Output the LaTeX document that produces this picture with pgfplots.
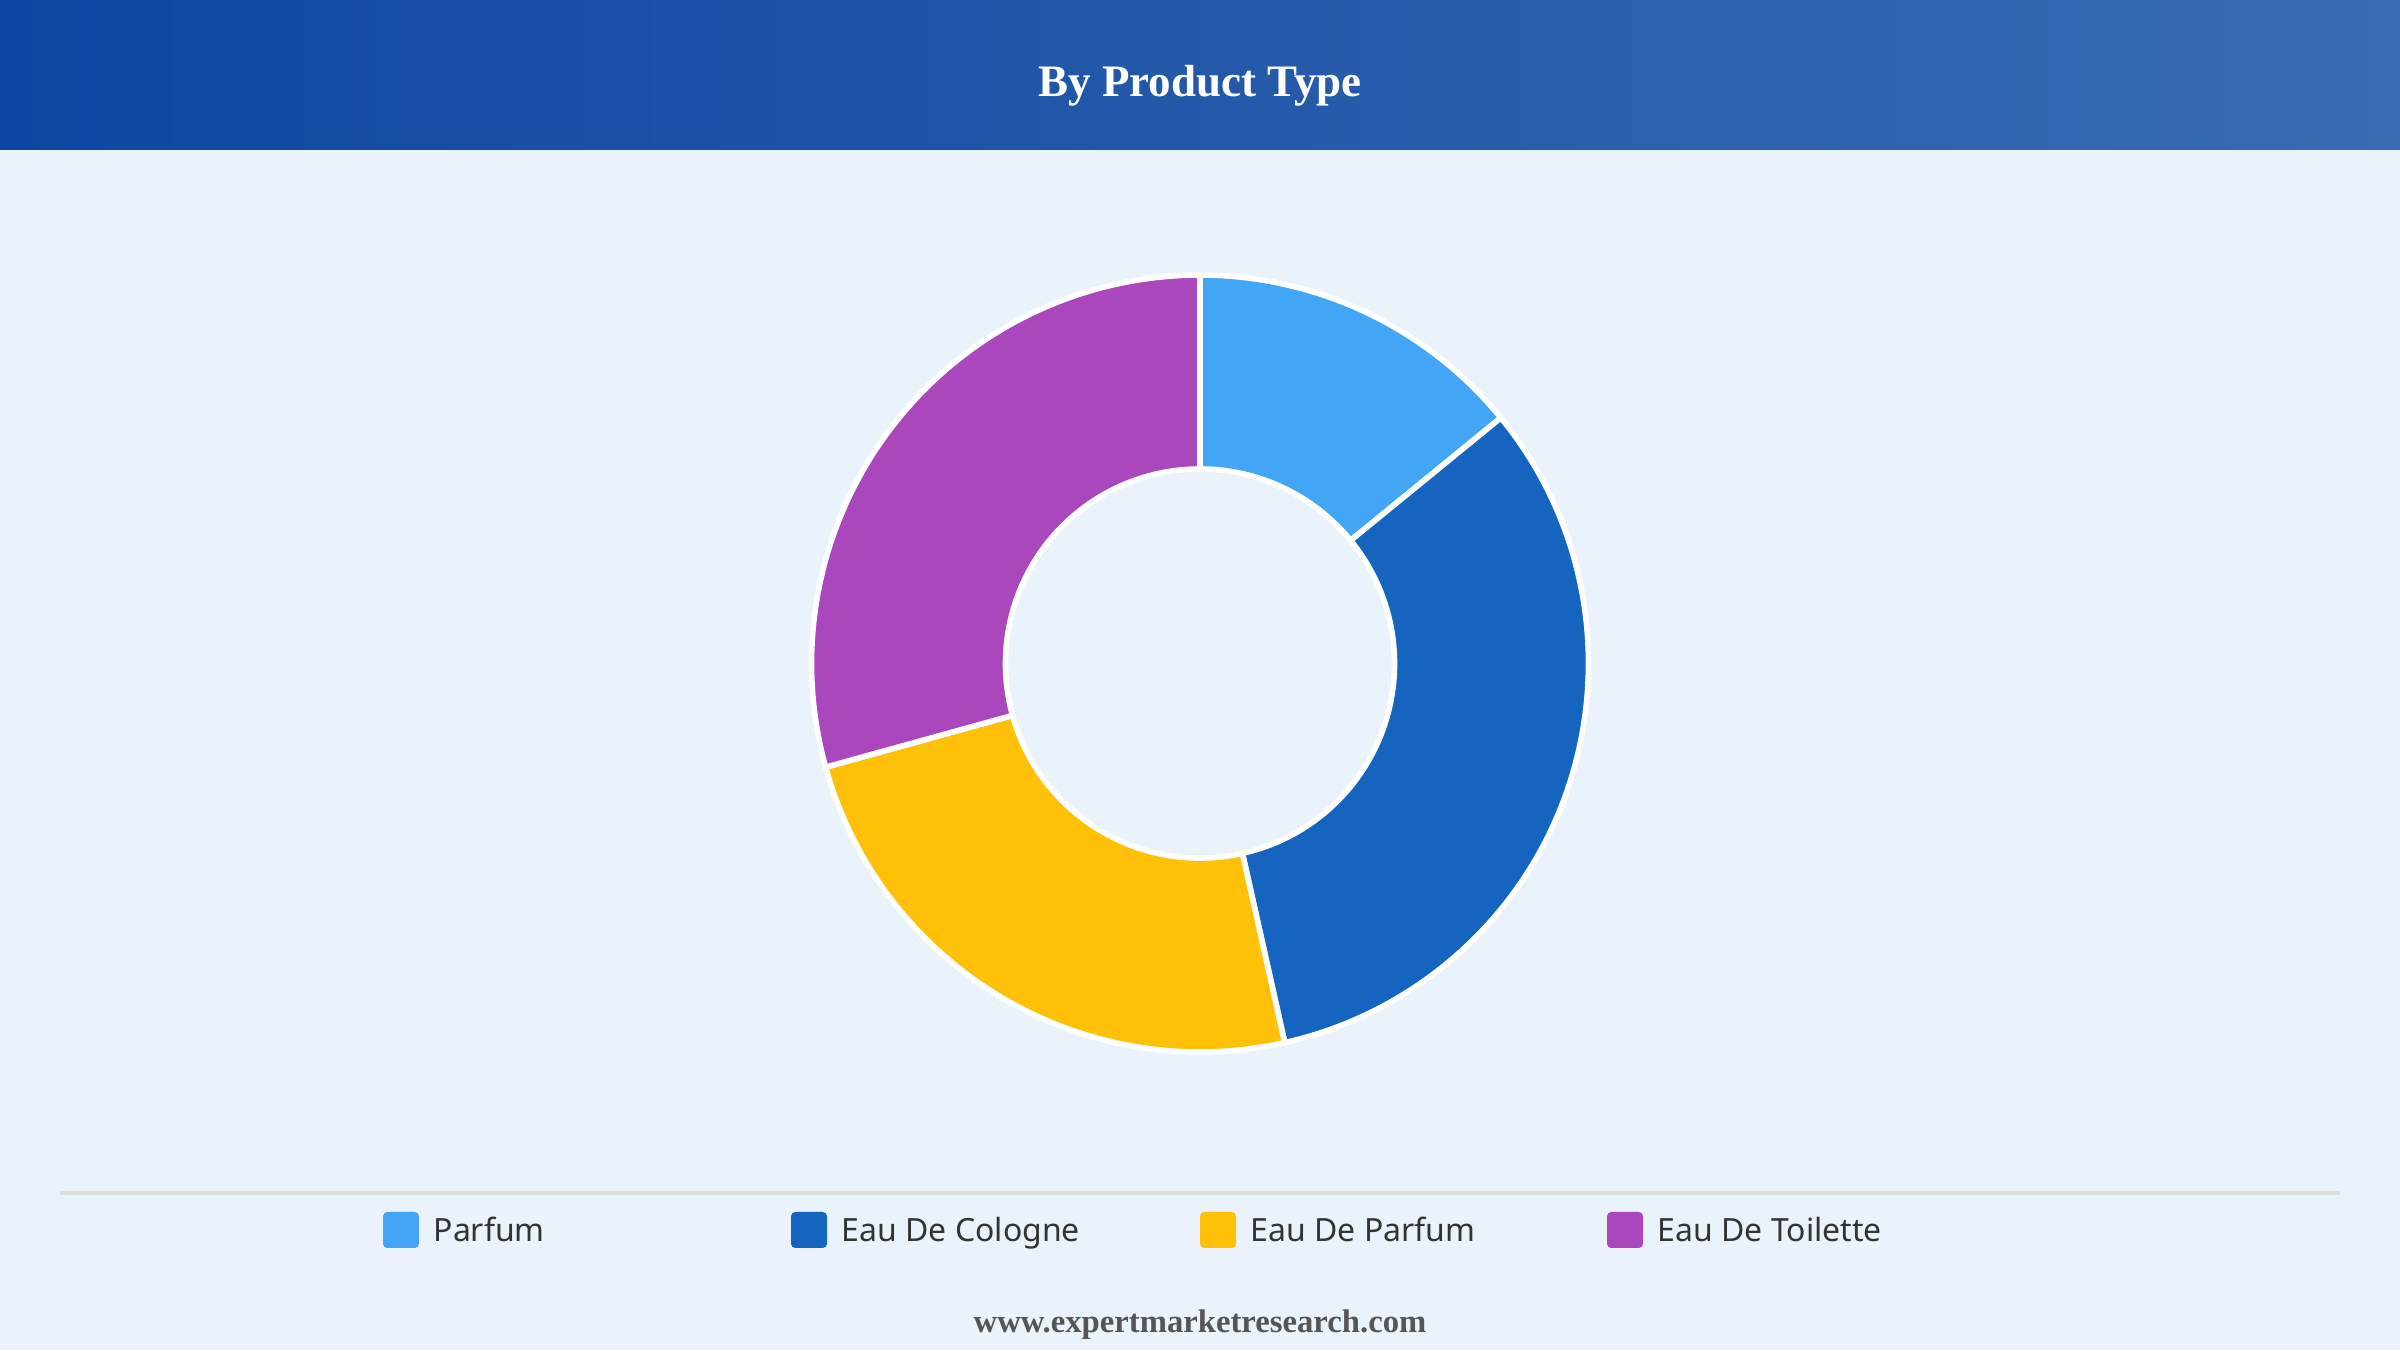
\documentclass[border=0pt]{standalone}
\usepackage{pgfplots}
\pgfplotsset{compat=1.18}
\usepackage{fontspec}
\setmainfont{Liberation Serif}
\newfontfamily\legfont{Noto Sans}
\definecolor{bg}{HTML}{EAF2FB}
\definecolor{hleft}{HTML}{0D47A1}
\definecolor{hright}{HTML}{3A6AB2}
\definecolor{cParfum}{HTML}{42A5F5}
\definecolor{cCologne}{HTML}{1565C0}
\definecolor{cEdP}{HTML}{FFC107}
\definecolor{cEdT}{HTML}{AB47BC}
\definecolor{legtext}{HTML}{333333}
\definecolor{foot}{HTML}{555555}
% data (percent shares, clockwise from 12 o'clock)
\def\vA{14.1}% Parfum
\def\vB{32.4}% Eau De Cologne
\def\vC{24.2}% Eau De Parfum
\def\vD{29.3}% Eau De Toilette
\def\cx{12}\def\cy{6.865}\def\Ro{3.885}\def\Ri{1.945}
\pgfmathsetmacro\aA{90}
\pgfmathsetmacro\aB{90-3.6*\vA}
\pgfmathsetmacro\aC{90-3.6*(\vA+\vB)}
\pgfmathsetmacro\aD{90-3.6*(\vA+\vB+\vC)}
\pgfmathsetmacro\aE{90-3.6*(\vA+\vB+\vC+\vD)}
\newcommand\slice[3]{% start, end, colour
  \filldraw[fill=#3, draw=white, line width=1.6pt, line join=round]
    (axis cs:{\cx+\Ro*cos(#1)},{\cy+\Ro*sin(#1)}) arc[start angle=#1, end angle=#2, radius=\Ro cm]
    -- (axis cs:{\cx+\Ri*cos(#2)},{\cy+\Ri*sin(#2)}) arc[start angle=#2, end angle=#1, radius=\Ri cm]
    -- cycle;}
\newcommand\legitem[3]{% x, colour, text
  \fill[#2, rounded corners=1.2pt] (axis cs:#1,1.02) rectangle (axis cs:#1+0.36,1.38);
  \node[anchor=base west, inner sep=0pt, text=legtext, font=\legfont\fontsize{9.1}{11}\selectfont] at (axis cs:#1+0.50,1.08) {#3};}
\begin{document}
\begin{tikzpicture}
\begin{axis}[
  x=1cm, y=1cm, xmin=0, xmax=24, ymin=0, ymax=13.5,
  hide axis, clip=false, scale only axis,
]
\fill[bg] (axis cs:0,0) rectangle (axis cs:24,13.5);
\shade[left color=hleft, right color=hright] (axis cs:0,12) rectangle (axis cs:24,13.5);
\node[anchor=base, inner sep=0pt, text=white, font=\bfseries\fontsize{12.8}{15}\selectfont] at (axis cs:12,12.53) {By Product Type};
\slice{\aA}{\aB}{cParfum}
\slice{\aB}{\aC}{cCologne}
\slice{\aC}{\aD}{cEdP}
\slice{\aD}{\aE}{cEdT}
\draw[color={rgb,255:red,221;green,221;blue,221}, line width=0.9pt] (axis cs:0.6,1.57) -- (axis cs:23.4,1.57);
\legitem{3.83}{cParfum}{Parfum}
\legitem{7.91}{cCologne}{Eau De Cologne}
\legitem{12.0}{cEdP}{Eau De Parfum}
\legitem{16.07}{cEdT}{Eau De Toilette}
\node[anchor=base, inner sep=0pt, text=foot, font=\bfseries\fontsize{9.3}{11}\selectfont] at (axis cs:12,0.18) {www.expertmarketresearch.com};
\end{axis}
\end{tikzpicture}
\end{document}
